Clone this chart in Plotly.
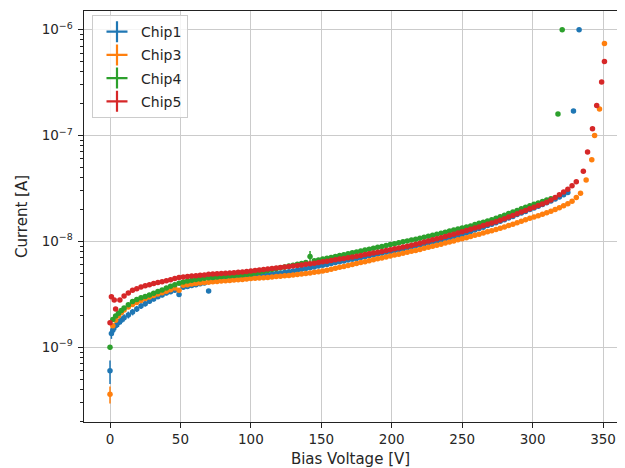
import plotly.graph_objects as go

# ---------------- data (currents in nA) ----------------
chip1_v = [0, 1, 2, 4, 6, 8] + list(range(10, 326, 3)) + [329, 333]
chip1_i_nA = [
    0.60, 1.35, 1.45, 1.60, 1.70, 1.80,
    1.90, 2.02, 2.15, 2.30, 2.45, 2.58, 2.72, 2.86, 3.00, 3.12,
    3.25, 3.35, 3.45, 3.15, 3.68, 3.75, 3.83, 3.90, 3.98, 4.05,
    3.40, 4.20, 4.27, 4.33, 4.38, 4.43, 4.48, 4.53, 4.58, 4.63,
    4.68, 4.72, 4.76, 4.80, 4.84, 4.90, 4.96, 5.03, 5.10, 5.18,
    5.26, 5.35, 5.44, 5.53, 5.63, 5.73, 5.84, 5.95, 6.06, 6.18,
    6.30, 6.42, 6.54, 6.66, 6.78, 6.90, 7.03, 7.16, 7.30, 7.44,
    7.58, 7.73, 7.88, 8.04, 8.20, 8.37, 8.54, 8.72, 8.90, 9.09,
    9.28, 9.48, 9.69, 9.90, 10.1, 10.3, 10.6, 10.8, 11.1, 11.3,
    11.6, 12.0, 12.4, 12.8, 13.2, 13.6, 14.1, 14.5, 15.0, 15.5,
    16.0, 16.6, 17.2, 17.9, 18.5, 19.2, 20.0, 20.7, 21.5, 22.3,
    23.2, 24.1, 25.1, 26.3, 27.6, 29.0,
    170, 1000,
]
chip1_err_nA = 0.15

chip3_v = [0, 2, 4, 6, 8] + list(range(10, 335, 3)) + [338, 342, 344, 347.5, 351]
chip3_i_nA = [
    0.36, 1.60, 1.80, 1.97, 2.12,
    2.25, 2.40, 2.53, 2.65, 2.77, 2.88, 2.98, 3.08, 3.18, 3.28,
    3.38, 3.50, 3.62, 3.45, 3.85, 3.90, 3.95, 4.00, 4.04, 4.08,
    4.12, 4.16, 4.19, 4.22, 4.25, 4.28, 4.31, 4.34, 4.37, 4.41,
    4.45, 4.48, 4.51, 4.54, 4.57, 4.61, 4.65, 4.69, 4.73, 4.77,
    4.82, 4.87, 4.92, 4.98, 5.04, 5.10, 5.17, 5.24, 5.35, 5.46,
    5.57, 5.69, 5.80, 5.92, 6.05, 6.17, 6.30, 6.43, 6.56, 6.70,
    6.84, 6.98, 7.12, 7.27, 7.42, 7.57, 7.73, 7.89, 8.05, 8.22,
    8.40, 8.60, 8.80, 9.00, 9.21, 9.42, 9.64, 9.87, 10.1, 10.35,
    10.6, 10.85, 11.1, 11.4, 11.7, 12.0, 12.3, 12.6, 12.95, 13.3,
    13.7, 14.1, 14.5, 15.0, 15.5, 16.0, 16.5, 17.0, 17.5, 18.0,
    18.6, 19.3, 20.0, 20.8, 21.7, 22.7, 24.0, 26.0, 28.5,
    38, 59, 100, 178, 740,
]
chip3_err_nA = 0.065

chip4_v = [0, 2, 4, 6, 8] + list(range(10, 314, 3)) + [318, 321]
chip4_i_nA = [
    1.00, 1.83, 1.97, 2.10, 2.22,
    2.35, 2.52, 2.70, 2.82, 2.93, 3.02, 3.12, 3.24, 3.37, 3.48,
    3.62, 3.76, 3.90, 4.02, 4.14, 4.22, 4.30, 4.36, 4.42, 4.48,
    4.53, 4.57, 4.61, 4.65, 4.69, 4.73, 4.77, 4.81, 4.85, 4.89,
    4.93, 5.02, 5.12, 5.22, 5.32, 5.42, 5.52, 5.63, 5.73, 5.84,
    5.95, 6.07, 6.18, 6.30, 7.20, 6.55, 6.67, 6.80, 6.93, 7.06,
    7.20, 7.34, 7.49, 7.64, 7.79, 7.95, 8.11, 8.27, 8.44, 8.61,
    8.78, 8.96, 9.14, 9.32, 9.51, 9.70, 9.90, 10.1, 10.3, 10.5,
    10.7, 10.95, 11.2, 11.45, 11.7, 11.95, 12.2, 12.5, 12.8, 13.1,
    13.4, 13.7, 14.0, 14.4, 14.8, 15.2, 15.6, 16.0, 16.5, 17.1,
    17.7, 18.3, 18.9, 19.6, 20.3, 21.0, 21.7, 22.4, 23.1, 23.8,
    24.6, 25.3,
    160, 1000,
]
chip4_err_nA = 0.05
chip4_big_err = {142: 0.9}

chip5_v = [0, 1, 3, 4, 7] + list(range(10, 332, 3)) + [336, 339, 342.5, 345.5, 349, 351]
chip5_i_nA = [
    1.70, 3.00, 2.80, 2.30, 2.80,
    3.05, 3.25, 3.45, 3.57, 3.70, 3.80, 3.90, 4.00, 4.08, 4.16,
    4.25, 4.35, 4.45, 4.55, 4.62, 4.66, 4.70, 4.74, 4.78, 4.82,
    4.88, 4.91, 4.94, 4.97, 5.00, 5.03, 5.06, 5.10, 5.15, 5.20,
    5.25, 5.30, 5.36, 5.42, 5.48, 5.54, 5.60, 5.66, 5.72, 5.78,
    5.85, 5.92, 5.99, 6.07, 6.15, 6.23, 6.32, 6.41, 6.50, 6.60,
    6.70, 6.80, 6.91, 7.02, 7.13, 7.25, 7.37, 7.50, 7.63, 7.76,
    7.90, 8.04, 8.19, 8.34, 8.50, 8.66, 8.83, 9.00, 9.18, 9.37,
    9.60, 9.85, 10.1, 10.35, 10.6, 10.85, 11.1, 11.4, 11.7, 12.0,
    12.3, 12.65, 13.0, 13.35, 13.7, 14.1, 14.5, 14.9, 15.35, 15.8,
    16.4, 17.0, 17.6, 18.2, 18.9, 19.6, 20.3, 21.0, 21.8, 22.6,
    23.4, 24.6, 26.0, 27.5, 29.2, 31.0, 33.5, 36.5,
    46, 70, 116, 192, 320, 500,
]
chip5_err_nA = 0.05

names = ["Chip1", "Chip3", "Chip4", "Chip5"]
colors = ["#1f77b4", "#ff7f0e", "#2ca02c", "#d62728"]

x_ticks = [0, 50, 100, 150, 200, 250, 300, 350]
y_major = [1e-9, 1e-8, 1e-7, 1e-6]
y_major_text = ["10<sup>−9</sup>", "10<sup>−8</sup>", "10<sup>−7</sup>", "10<sup>−6</sup>"]
y_minor = [m * 10.0 ** e for e in range(-10, -5) for m in range(2, 10)]

# ---------------- figure ----------------
err4 = [chip4_big_err.get(v, chip4_err_nA) for v in chip4_v]
series = [
    (chip1_v, chip1_i_nA, [chip1_err_nA] * len(chip1_v)),
    (chip3_v, chip3_i_nA, [chip3_err_nA] * len(chip3_v)),
    (chip4_v, chip4_i_nA, err4),
    (chip5_v, chip5_i_nA, [chip5_err_nA] * len(chip5_v)),
]

fig = go.Figure()
for (v, i_nA, e_nA), name, c in zip(series, names, colors):
    fig.add_trace(go.Scatter(
        x=v, y=[a * 1e-9 for a in i_nA], mode="markers", name=name,
        marker=dict(color=c, size=5.5, line=dict(width=0)),
        error_y=dict(type="data", array=[a * 1e-9 for a in e_nA], color=c,
                     thickness=1.5, width=0),
        showlegend=False, hoverinfo="skip"))

for name, c in zip(names, colors):
    fig.add_trace(go.Scatter(
        x=[None], y=[None], mode="markers", name=name, legendgroup=name,
        marker=dict(symbol="cross-thin", size=15, color=c,
                    line=dict(color=c, width=2.2))))

axis_common = dict(
    ticks="outside", ticklen=4.5, tickwidth=1.1, tickcolor="#222",
    showline=True, linecolor="#222", linewidth=1.1,
    showgrid=True, gridcolor="#cbcbcb", gridwidth=1.3, zeroline=False,
    tickfont=dict(size=13.5, color="#262626"), automargin=False,
)

fig.update_layout(
    width=609, height=460,
    margin=dict(l=76, r=0, t=3, b=46, autoexpand=False),
    paper_bgcolor="white", plot_bgcolor="white",
    font=dict(family="DejaVu Sans", size=13.5, color="#262626"),
    legend=dict(x=0.015, y=0.99, xanchor="left", yanchor="top",
                bgcolor="rgba(255,255,255,0.8)", bordercolor="#cccccc",
                borderwidth=1, font=dict(size=14), itemwidth=38,
                tracegroupgap=2, traceorder="grouped"),
    xaxis=dict(range=[-18.46, 359.9], tickmode="array", tickvals=x_ticks,
               mirror=True, ticklabeloverflow="allow",
               title=dict(text="Bias Voltage [V]", standoff=8, font=dict(size=15)),
               **axis_common),
    yaxis=dict(type="log", range=[-9.706, -5.824], tickmode="array",
               tickvals=y_major, ticktext=y_major_text, ticklabelstandoff=3,
               minor=dict(tickmode="array", tickvals=y_minor, ticks="outside",
                          ticklen=2.5, tickcolor="#222", showgrid=False),
               title=dict(text="Current [A]", standoff=10, font=dict(size=15)),
               **axis_common),
)

fig.write_html("out.html")
